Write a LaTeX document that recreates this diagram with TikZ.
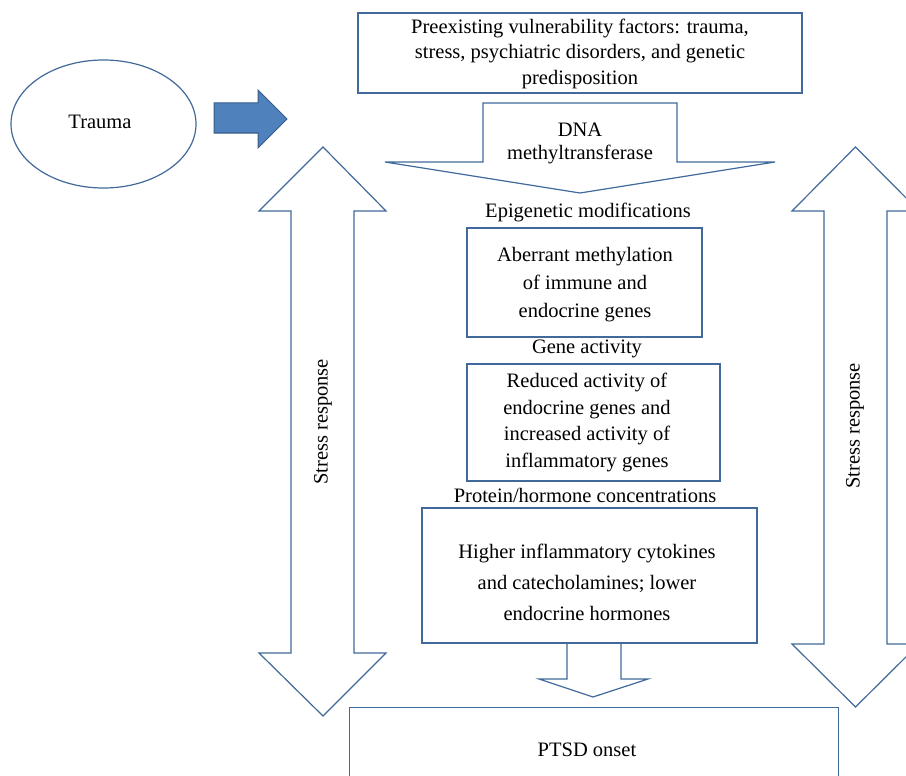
\documentclass[tikz,border=0pt]{standalone}
\usepackage{fontspec}
\setmainfont{Liberation Serif}
\usetikzlibrary{shapes.geometric}
\definecolor{edge}{RGB}{65,105,155}
\definecolor{fillblue}{RGB}{79,129,189}
\definecolor{darkedge}{RGB}{56,93,138}
\begin{document}
\begin{tikzpicture}[x=1pt,y=-1pt,
  outl/.style={draw=edge,line width=1.2pt,line join=miter},
  boxst/.style={outl,rectangle,inner sep=0pt},
  lbl/.style={font=\fontsize{20.5}{27}\selectfont,align=center,inner sep=0pt,text=black}]
\useasboundingbox (0,0) rectangle (906,776);
\clip (0,0) rectangle (906,776);
\fill[white] (0,0) rectangle (906,776);

% Trauma ellipse
\node[outl,ellipse,minimum width=185pt,minimum height=128pt,inner sep=0pt] (trauma) at (103.5,124) {};
\node[lbl] (traumatxt) at (100,122) {Trauma};

% blue block arrow
\draw[fill=fillblue,draw=darkedge,line width=1pt] (214,103) -- (258,103) -- (258,90) -- (287,119) -- (258,148) -- (258,133) -- (214,133) -- cycle;

% top box
\node[boxst,minimum width=444pt,minimum height=80pt] (top) at (580,53) {};
\node[lbl,font=\fontsize{20.5}{25.5}\selectfont] (toptxt) at (580,53.5) {Preexisting vulnerability factors: trauma,\\stress, psychiatric disorders, and genetic\\predisposition};

% DNA arrow
\draw[outl] (483,103) -- (677,103) -- (677,162) -- (775,162) -- (580,193) -- (385,162) -- (483,162) -- cycle;
\node[lbl,font=\fontsize{20.5}{23}\selectfont] (dna) at (580,143) {DNA\\methyltransferase};

% left double arrow
\draw[outl] (323,147) -- (386,211) -- (354,211) -- (354,653) -- (386,653) -- (323,716) -- (259,653) -- (291,653) -- (291,211) -- (259,211) -- cycle;
\node[lbl,rotate=90] (srl) at (323,422) {Stress response};

% right double arrow
\draw[outl] (855.5,147) -- (919,211) -- (887,211) -- (887,644) -- (919,644) -- (855.5,707) -- (792,644) -- (824,644) -- (824,211) -- (792,211) -- cycle;
\node[lbl,rotate=90] (srr) at (855,426) {Stress response};

% middle chain
\node[lbl] (epi) at (588,212) {Epigenetic modifications};
\node[boxst,minimum width=235pt,minimum height=109pt] (b1) at (584.5,282.5) {};
\node[lbl,font=\fontsize{20.5}{28}\selectfont] (b1txt) at (585,285) {Aberrant methylation\\of immune and\\endocrine genes};

\node[lbl] (gene) at (587,349) {Gene activity};
\node[boxst,minimum width=253pt,minimum height=117pt] (b2) at (593.5,422.5) {};
\node[lbl,font=\fontsize{20.5}{26.5}\selectfont] (b2txt) at (587,422.5) {Reduced activity of\\endocrine genes and\\increased activity of\\inflammatory genes};

\node[lbl] (prot) at (585,495) {Protein/hormone concentrations};
\node[boxst,minimum width=335pt,minimum height=135pt] (b3) at (589.5,575.5) {};
\node[lbl,font=\fontsize{20.5}{31}\selectfont] (b3txt) at (587,582) {Higher inflammatory cytokines\\and catecholamines; lower\\endocrine hormones};

% small arrow
\draw[outl] (567,643) -- (567,679) -- (539,679) -- (593,697) -- (648,679) -- (621,679) -- (621,643);

% PTSD box
\node[boxst,minimum width=489pt,minimum height=100pt,anchor=north west] (ptsd) at (349,707) {};
\node[lbl] (ptsdtxt) at (587,750) {PTSD onset};
\end{tikzpicture}
\end{document}
